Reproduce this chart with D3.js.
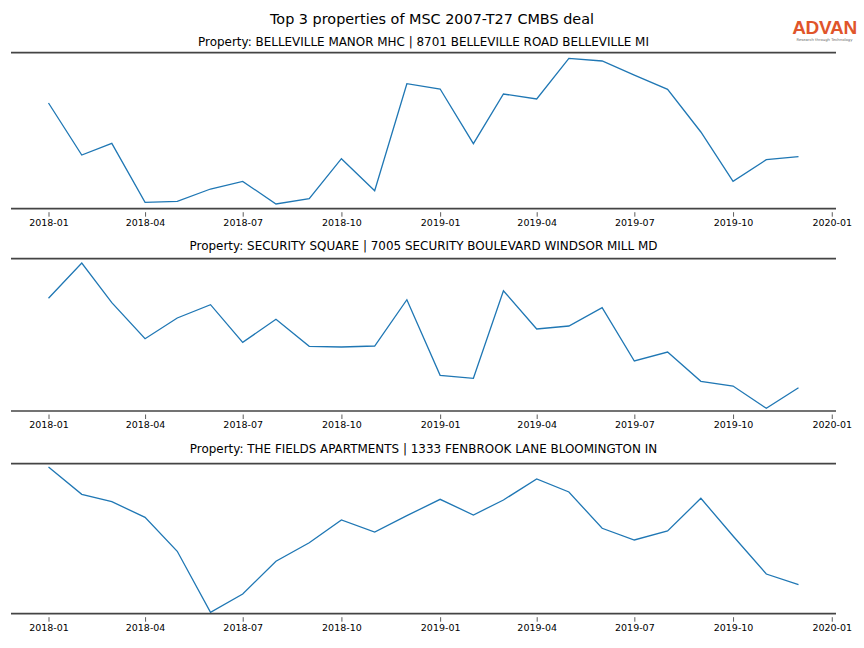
<!DOCTYPE html>
<html>
<head>
<meta charset="utf-8">
<script src="https://cdn.jsdelivr.net/npm/d3@7"></script>
<style>
  html, body { margin: 0; padding: 0; background: #fff; }
  svg { display: block; font-family: "DejaVu Sans", sans-serif; }
</style>
</head>
<body>
<svg id="chart" width="864" height="648"></svg>
<script>
// ---- data ----
const months = ["2018-01","2018-02","2018-03","2018-04","2018-05","2018-06","2018-07","2018-08","2018-09","2018-10","2018-11","2018-12",
                "2019-01","2019-02","2019-03","2019-04","2019-05","2019-06","2019-07","2019-08","2019-09","2019-10","2019-11","2019-12"];
const propertyTitles = [
  "Property: BELLEVILLE MANOR MHC | 8701 BELLEVILLE ROAD BELLEVILLE MI",
  "Property: SECURITY SQUARE | 7005 SECURITY BOULEVARD WINDSOR MILL MD",
  "Property: THE FIELDS APARTMENTS | 1333 FENBROOK LANE BLOOMINGTON IN"
];
const bellevilleValues = [105.7, 53.7, 65.3, 6.3, 7.3, 19.7, 27.3, 4.7, 10, 50, 18, 125,
                          119.7, 65, 114.7, 109.7, 150.3, 147.7, 133.5, 119.3, 76.7, 27.3, 49, 52];
const securityValues   = [112.7, 148, 108.3, 72.3, 93, 106.3, 68.7, 91.7, 64.7, 64, 65, 111.3,
                          35.7, 32.7, 120.3, 82, 85, 103.3, 50, 59, 29.7, 25, 2.7, 23.3];
const fieldsValues     = [146.7, 119.4, 112, 96.4, 62.4, 1.4, 19.7, 52.4, 71, 93.7, 81.7, 98,
                          114.4, 98.7, 113.7, 134.7, 121.7, 85.4, 73.7, 82.7, 115.4, 77.7, 39.7, 29];
const yDomains = [[0, 156], [0, 152.3], [0, 150]];
const tickLabels = ["2018-01","2018-04","2018-07","2018-10","2019-01","2019-04","2019-07","2019-10","2020-01"];
const mainTitle = "Top 3 properties of MSC 2007-T27 CMBS deal";

// ---- layout ----
const svg = d3.select("#chart");
const parse = d3.timeParse("%Y-%m");
const dates = months.map(parse);
const seriesList = [bellevilleValues, securityValues, fieldsValues];
const panels = [
  {top: 52.7, bottom: 208.7, titleGap: 6.7},
  {top: 258.7, bottom: 411, titleGap: 8.7},
  {top: 463.7, bottom: 613.7, titleGap: 10.4}
];
const left = 11, right = 836;

// x domain with 5% margins like matplotlib
const dMin = dates[0], dMax = dates[dates.length - 1];
const span = dMax - dMin;
const x = d3.scaleTime()
  .domain([new Date(+dMin - span * 0.05), new Date(+dMax + span * 0.05)])
  .range([left, right]);

svg.append("text")
  .attr("x", 432).attr("y", 24)
  .attr("text-anchor", "middle")
  .attr("font-size", 14.4)
  .attr("fill", "#000")
  .text(mainTitle);

// logo
const logo = svg.append("g");
logo.append("text")
  .attr("x", 824.5).attr("y", 33.5)
  .attr("text-anchor", "middle")
  .attr("font-size", 19)
  .attr("font-weight", "bold")
  .attr("font-family", "Liberation Sans, Arial, sans-serif")
  .attr("letter-spacing", -0.3)
  .attr("fill", "#e0552b")
  .text("ADVAN");
logo.append("text")
  .attr("x", 824.5).attr("y", 40.5)
  .attr("text-anchor", "middle")
  .attr("font-size", 3.8)
  .attr("fill", "#666")
  .text("Research through Technology");

panels.forEach((p, i) => {
  const values = seriesList[i];
  const y = d3.scaleLinear().domain(yDomains[i]).range([p.bottom, p.top]);
  const g = svg.append("g");

  // subplot title
  g.append("text")
    .attr("x", (left + right) / 2).attr("y", p.top - p.titleGap)
    .attr("text-anchor", "middle")
    .attr("font-size", 11.95)
    .attr("fill", "#000")
    .text(propertyTitles[i]);

  // line
  const line = d3.line().x((d, j) => x(dates[j])).y(d => y(d));
  g.append("path")
    .datum(values)
    .attr("fill", "none")
    .attr("stroke", "#1f77b4")
    .attr("stroke-width", 1.3)
    .attr("stroke-linejoin", "miter")
    .attr("d", line);

  // spines
  [p.top, p.bottom].forEach(yy => {
    g.append("line")
      .attr("x1", left).attr("x2", right)
      .attr("y1", yy).attr("y2", yy)
      .attr("stroke", "#444").attr("stroke-width", 1.7);
  });

  // x axis
  const axis = d3.axisBottom(x)
    .tickValues(tickLabels.map(parse))
    .tickFormat(d3.timeFormat("%Y-%m"))
    .tickSize(4.5)
    .tickPadding(2.5);
  const ax = g.append("g")
    .attr("transform", `translate(0,${p.bottom + 3.5})`)
    .call(axis);
  ax.select(".domain").remove();
  ax.selectAll(".tick line").attr("stroke", "#333").attr("stroke-width", 0.8);
  ax.selectAll(".tick text")
    .attr("font-size", 9.5)
    .attr("font-family", "DejaVu Sans, sans-serif")
    .attr("fill", "#000");
});
</script>
</body>
</html>
